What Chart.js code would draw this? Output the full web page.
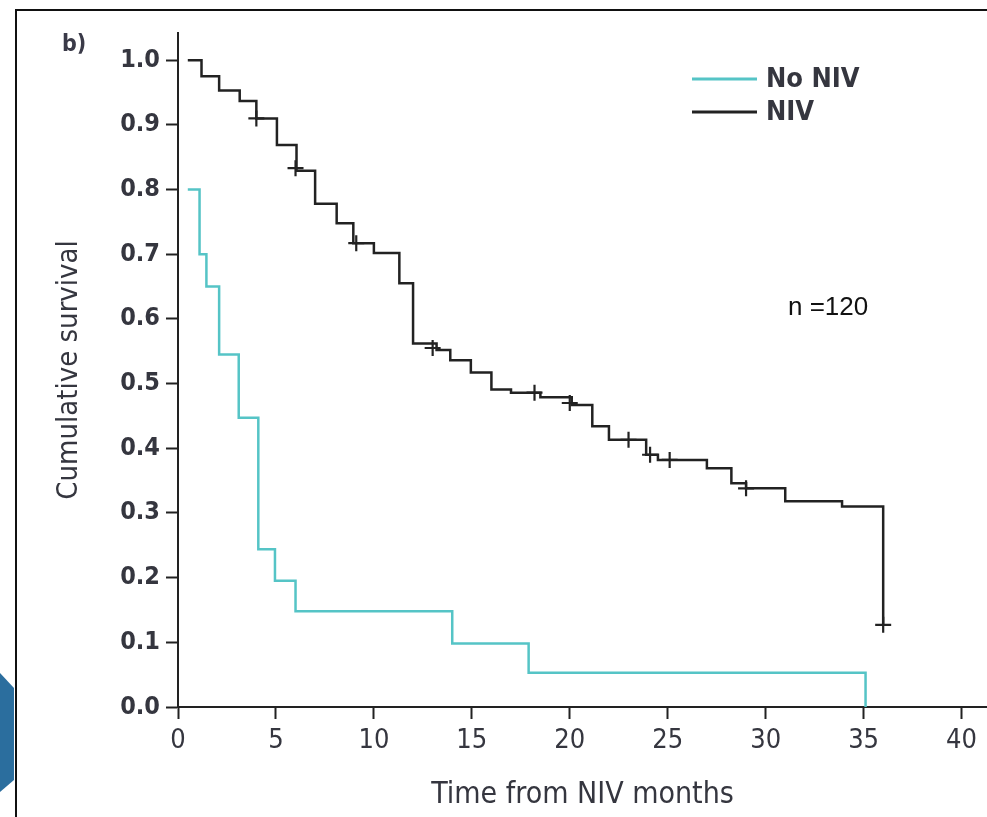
<!DOCTYPE html>
<html>
<head>
<meta charset="utf-8">
<title>Cumulative survival</title>
<script src="https://cdn.jsdelivr.net/npm/chart.js@4.4.1/dist/chart.umd.min.js"></script>
<style>
  html, body { margin: 0; padding: 0; background: #fff; }
  #wrap { position: relative; width: 987px; height: 817px; overflow: hidden; }
  #graph { position: absolute; left: 0; top: 0; }
  .frame { position: absolute; left: 15px; top: 9px; right: -4px; bottom: -4px; border-top: 2px solid #111; border-left: 2px solid #111; pointer-events: none; }
  .tab { position: absolute; left: 0; top: 673px; width: 14px; height: 119px; background: #2b6e9e;
         clip-path: polygon(0 0, 100% 15px, 100% 107px, 0 100%); }
  .panel { position: absolute; left: 62px; top: 30px; line-height: 1; font: bold 23px "DejaVu Sans Condensed", "DejaVu Sans", sans-serif; color: #3a3a48; }
  .note { position: absolute; left: 788px; top: 291px; line-height: 1; font: 26px "Liberation Sans", Arial, sans-serif; color: #111; }
</style>
</head>
<body>
<div id="wrap">
  <canvas id="graph" width="987" height="817"></canvas>
  <div class="frame"></div>
  <div class="tab"></div>
  <div class="panel">b)</div>
  <div class="note">n =120</div>
</div>
<script>
const seriesNames = ['No NIV', 'NIV'];
const xTicks = [0, 5, 10, 15, 20, 25, 30, 35, 40];
const yTicks = [0, 0.1, 0.2, 0.3, 0.4, 0.5, 0.6, 0.7, 0.8, 0.9, 1.0];

// Kaplan-Meier steps (months, survival after the step)
const noNivTime = [0.5, 1.1, 1.45, 2.1, 3.1, 4.1, 4.95, 6.0, 14.0, 17.9, 35.1];
const noNivSurv = [0.80, 0.70, 0.65, 0.545, 0.447, 0.244, 0.195, 0.148, 0.098, 0.053, 0];

const nivTime = [0.5, 1.2, 2.1, 3.15, 4.0, 5.05, 6.05, 7.0, 8.1, 8.95, 10.0, 11.3, 12.0, 13.2, 13.9, 14.95,
                 16.0, 17.0, 18.5, 20.1, 21.15, 22.0, 23.9, 24.5, 27.0, 28.25, 29.0, 31.0, 33.9, 36.0];
const nivSurv = [1.0, 0.975, 0.953, 0.937, 0.910, 0.869, 0.829, 0.778, 0.748, 0.717, 0.702, 0.655, 0.562, 0.552, 0.536, 0.517,
                 0.491, 0.486, 0.479, 0.467, 0.434, 0.413, 0.390, 0.382, 0.369, 0.346, 0.338, 0.318, 0.310, 0.127];

// censored observations (+) on the NIV curve
const censorTime = [4.0, 6.0, 9.1, 13.0, 18.2, 20.0, 23.0, 24.1, 25.1, 29.0, 36.0];
const censorSurv = [0.910, 0.833, 0.717, 0.555, 0.486, 0.470, 0.413, 0.390, 0.382, 0.338, 0.127];

const fam = '"DejaVu Sans Condensed", "DejaVu Sans", sans-serif';
const textColor = '#35363f';

function points(xs, ys) {
  return xs.map((x, i) => ({x: x, y: ys[i]}));
}

// legend drawn inside the plot, top right, like the original figure
const innerLegend = {
  id: 'innerLegend',
  afterDraw(chart) {
    const ctx = chart.ctx;
    const items = chart.data.datasets.filter(d => d.inLegend);
    ctx.save();
    ctx.font = 'bold 27px ' + fam;
    ctx.textBaseline = 'middle';
    items.forEach((ds, i) => {
      const y = 79 + i * 33;
      ctx.strokeStyle = ds.borderColor;
      ctx.lineWidth = 3;
      ctx.beginPath();
      ctx.moveTo(692, y);
      ctx.lineTo(757, y);
      ctx.stroke();
      ctx.fillStyle = textColor;
      ctx.fillText(ds.label, 766, y + 1);
    });
    ctx.restore();
  }
};

new Chart(document.getElementById('graph'), {
  type: 'line',
  data: {
    datasets: [
      {
        label: seriesNames[0],
        data: points(noNivTime, noNivSurv),
        borderColor: '#55c4c6',
        borderWidth: 2.5,
        stepped: 'before',
        pointRadius: 0,
        inLegend: true
      },
      {
        label: seriesNames[1],
        data: points(nivTime, nivSurv),
        borderColor: '#222222',
        borderWidth: 2.5,
        stepped: 'before',
        pointRadius: 0,
        inLegend: true
      },
      {
        label: 'Censored',
        data: points(censorTime, censorSurv),
        showLine: false,
        pointStyle: 'cross',
        pointRadius: 8,
        pointBorderWidth: 2.2,
        borderColor: '#222222',
        pointBorderColor: '#222222'
      }
    ]
  },
  options: {
    responsive: false,
    animation: false,
    layout: { autoPadding: false, padding: { top: 33, left: 0, right: 0, bottom: 0 } },
    plugins: {
      legend: { display: false },
      tooltip: { enabled: false }
    },
    scales: {
      x: {
        type: 'linear',
        min: 0,
        max: 41.3,
        afterBuildTicks: s => { s.ticks = xTicks.map(v => ({value: v})); },
        afterFit: s => { s.height = 110; s.paddingLeft = 0; s.paddingRight = 0; },
        grid: { drawOnChartArea: false, tickLength: 12, tickWidth: 2, tickColor: '#222' },
        border: { display: true, color: '#222', width: 2 },
        ticks: { font: { family: fam, size: 27 }, color: textColor, padding: 6, maxRotation: 0 },
        title: {
          display: true,
          text: 'Time from NIV months',
          font: { family: fam, size: 30 },
          color: textColor,
          padding: { top: 0, bottom: 4 }
        }
      },
      y: {
        type: 'linear',
        min: 0,
        max: 1.042,
        afterBuildTicks: s => { s.ticks = yTicks.map(v => ({value: v})); },
        afterFit: s => { s.width = 178; s.paddingTop = 0; s.paddingBottom = 0; },
        grid: { drawOnChartArea: false, tickLength: 12, tickWidth: 2, tickColor: '#222' },
        border: { display: true, color: '#222', width: 2 },
        ticks: {
          font: { family: fam, size: 25, weight: 'bold' },
          color: textColor,
          padding: 6,
          callback: v => v.toFixed(1)
        },
        title: {
          display: true,
          text: 'Cumulative survival',
          font: { family: fam, size: 29 },
          color: textColor,
          padding: { top: 52, bottom: 0 }
        }
      }
    }
  },
  plugins: [innerLegend]
});
</script>
</body>
</html>
